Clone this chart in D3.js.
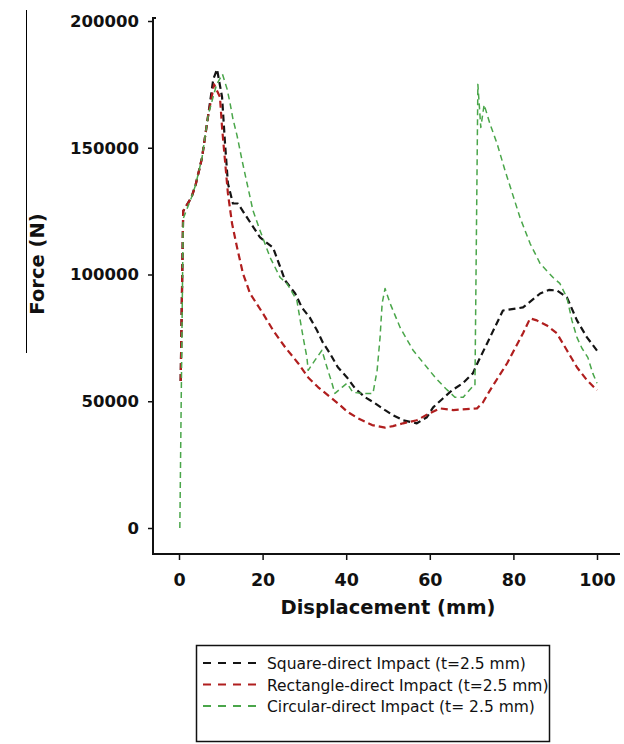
<!DOCTYPE html>
<html>
<head>
<meta charset="utf-8">
<script src="https://cdn.jsdelivr.net/npm/d3@7"></script>
<style>
  body { margin: 0; background: #fff; }
  svg { display: block; }
</style>
</head>
<body>
<script>
// Force-displacement curves for three tube cross-sections under direct impact
const xTicks = [0, 20, 40, 60, 80, 100];
const yTicks = [0, 50000, 100000, 150000, 200000];
const seriesNames = [
  "Square-direct Impact (t=2.5 mm)",
  "Rectangle-direct Impact (t=2.5 mm)",
  "Circular-direct Impact (t= 2.5 mm)"
];
const xTitle = "Displacement (mm)";
const yTitle = "Force (N)";

// [displacement mm, force N]
const squareData = [
  [0.4, 58000], [1, 125000], [3, 130500], [4, 135500], [5.5, 146000], [7, 163000],
  [8.2, 177000], [9.1, 181000], [10.3, 170000], [11, 152000], [11.7, 136000],
  [12.9, 128000], [14.1, 128000], [16.3, 122400], [19.4, 114600], [22.5, 110600],
  [25.4, 97600], [27.8, 92500], [29.4, 87000], [31.3, 83000], [33, 78000],
  [34.4, 73200], [36.1, 68900], [38, 63400], [40.2, 59400], [42.1, 55100],
  [44.5, 51600], [46.9, 49200], [49.3, 46500], [51.2, 44500], [53.6, 42500],
  [56.9, 41300], [59.3, 43700], [60.8, 47600], [63.2, 51200], [65.3, 54300],
  [67.9, 57100], [70.3, 61000], [71.5, 65400], [73.7, 72800], [77.5, 85800],
  [82.3, 87000], [86.4, 92500], [88.5, 93900], [90.4, 93700], [92.8, 91000],
  [95.2, 81900], [97.6, 75200], [100, 70000]
];

const rectangleData = [
  [0.4, 58000], [1, 125000], [3, 130500], [4, 135500], [5.5, 146000], [7, 163000],
  [8.4, 175000], [9.8, 170000], [10.3, 158000], [11, 145000], [11.7, 132000],
  [12.7, 120000], [13.9, 110600], [15.3, 100400], [17, 92500], [20.1, 84600],
  [22.5, 78000], [25.4, 71300], [28.5, 65000], [30.9, 59400], [33.3, 55500],
  [35.6, 52400], [38, 49200], [40.4, 45700], [42.8, 43300], [46.2, 40600],
  [49.3, 39600], [51.2, 40200], [53.6, 41300], [56.9, 42500], [60, 45300],
  [62.4, 47200], [65.6, 46500], [71.3, 47200], [72.7, 49500], [74.4, 54300],
  [78.5, 65000], [82.3, 76800], [84, 82700], [85.6, 81900], [88, 79900],
  [90.4, 76800], [92.8, 70100], [95.2, 63400], [97.6, 58300], [100, 54300]
];

const circularData = [
  [0.2, 0], [1, 122000], [3, 130500], [4, 135500], [5.5, 146000], [7, 163000],
  [9, 175000], [10.4, 179000], [11.5, 173200], [12.2, 167700], [12.9, 161400],
  [13.9, 154700], [15.1, 144900], [16.3, 135800], [17.7, 125200], [19.4, 117300],
  [21.8, 106700], [24.2, 98800], [25.8, 96500], [28.2, 89800], [29, 81900],
  [29.7, 75200], [30.6, 67300], [30.9, 62200], [32.5, 66100], [34.2, 70100],
  [35.4, 63400], [36.6, 57100], [37.3, 53100], [39, 55500], [40.2, 57100],
  [41.6, 53500], [44, 53100], [46.4, 53100], [47.4, 62200], [48.1, 75200],
  [48.6, 88600], [49.3, 94500], [50.5, 88600], [52.9, 79100], [56, 70100],
  [59.3, 63400], [61.5, 59000], [63.8, 55000], [66, 51600], [68, 51600],
  [70.1, 55500], [70.8, 56000], [71.5, 175000], [72.2, 158000], [73, 167000],
  [74.4, 159400], [76.1, 151600], [78, 141000], [81.6, 122400], [84, 112200],
  [86.4, 104300], [89.5, 98800], [91.1, 96500], [92.8, 90900], [94, 81900],
  [95.2, 75200], [96.4, 70900], [97.8, 67300], [99, 61000], [100, 57100]
];

const seriesData = [squareData, rectangleData, circularData];
const seriesColors = ["#141414", "#b01e1e", "#4aa64a"];
const seriesWidths = [2.2, 2.2, 1.5];
const seriesDash = ["7,4", "7,4", "6,4"];

const W = 624, H = 744;
const svg = d3.select("body").append("svg")
  .attr("width", W).attr("height", H)
  .style("font-family", "'DejaVu Sans', Verdana, sans-serif");

const x = d3.scaleLinear().domain([0, 100]).range([179, 597]);
const y = d3.scaleLinear().domain([0, 200000]).range([528, 21]);

const axisX = 153, axisY = 554;

// stray vertical rule at the far left
svg.append("line")
  .attr("x1", 26.5).attr("x2", 26.5).attr("y1", 10).attr("y2", 353)
  .attr("stroke", "#000").attr("stroke-width", 1);

// y axis
const gy = svg.append("g")
  .attr("transform", `translate(${axisX},0)`)
  .call(d3.axisLeft(y).tickValues(yTicks).tickSize(5).tickSizeOuter(0)
    .tickPadding(9).tickFormat(d3.format("d")));
gy.select(".domain").remove();
gy.selectAll(".tick line").attr("stroke", "#111").attr("stroke-width", 1.5);
gy.selectAll(".tick text")
  .attr("fill", "#111")
  .style("font-family", "'DejaVu Sans', Verdana, sans-serif")
  .style("font-size", "16.5px").style("font-weight", "bold");

// x axis
const gx = svg.append("g")
  .attr("transform", `translate(0,${axisY})`)
  .call(d3.axisBottom(x).tickValues(xTicks).tickSize(6).tickSizeOuter(0)
    .tickPadding(14));
gx.select(".domain").remove();
gx.selectAll(".tick line").attr("stroke", "#111").attr("stroke-width", 1.5);
gx.selectAll(".tick text")
  .attr("fill", "#111")
  .style("font-family", "'DejaVu Sans', Verdana, sans-serif")
  .style("font-size", "17.5px").style("font-weight", "bold");

// axis lines
svg.append("path")
  .attr("d", `M${axisX + 3},18H${axisX}V${axisY}H620`)
  .attr("fill", "none").attr("stroke", "#111").attr("stroke-width", 2);

// curves
const line = d3.line().x(d => x(d[0])).y(d => y(d[1]));
svg.append("g").selectAll("path")
  .data(seriesData)
  .join("path")
  .attr("d", line)
  .attr("fill", "none")
  .attr("stroke", (d, i) => seriesColors[i])
  .attr("stroke-width", (d, i) => seriesWidths[i])
  .attr("stroke-dasharray", (d, i) => seriesDash[i])
  .attr("stroke-linejoin", "round");

// axis titles
svg.append("text")
  .attr("x", (x.range()[0] + x.range()[1]) / 2).attr("y", 614)
  .attr("text-anchor", "middle")
  .style("font-size", "19.5px").style("font-weight", "bold").attr("fill", "#111")
  .text(xTitle);

svg.append("text")
  .attr("transform", "translate(44,264) rotate(-90)")
  .attr("text-anchor", "middle")
  .style("font-size", "19.5px").style("font-weight", "bold").attr("fill", "#111")
  .text(yTitle);

// legend
const legend = svg.append("g");
legend.append("rect")
  .attr("x", 196.5).attr("y", 645.5).attr("width", 353).attr("height", 96)
  .attr("fill", "#fff").attr("stroke", "#111").attr("stroke-width", 1.5);

const rows = legend.selectAll("g.row")
  .data(seriesNames)
  .join("g").attr("class", "row")
  .attr("transform", (d, i) => `translate(0,${663 + i * 21.5})`);
rows.append("line")
  .attr("x1", 203).attr("x2", 261).attr("y1", 0).attr("y2", 0)
  .attr("stroke", (d, i) => seriesColors[i])
  .attr("stroke-width", 1.8)
  .attr("stroke-dasharray", "8,7");
rows.append("text")
  .attr("x", 267).attr("y", 6)
  .style("font-size", "15.5px").attr("fill", "#111")
  .text(d => d);
</script>
</body>
</html>
